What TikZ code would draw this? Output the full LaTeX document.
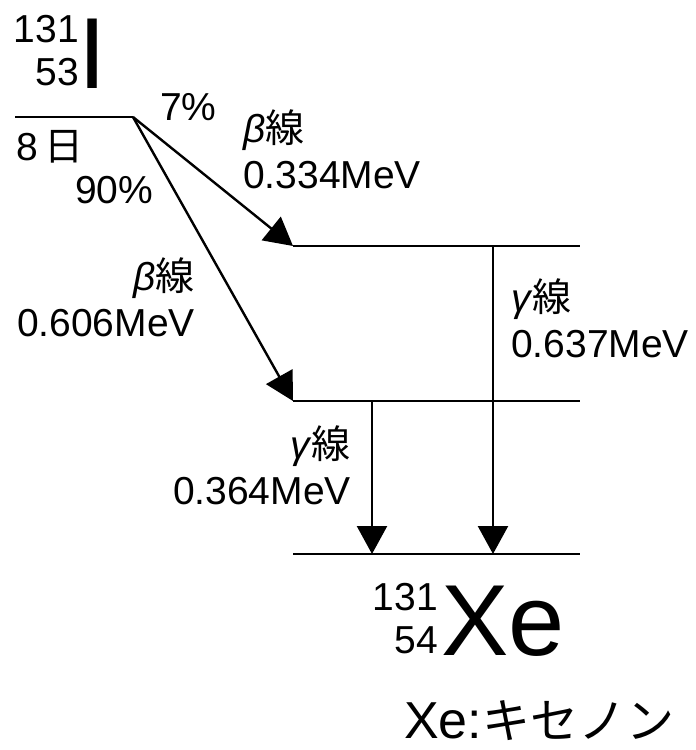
\documentclass[tikz,border=0pt]{standalone}
\usepackage{fontspec}
\setmainfont{Liberation Sans}
\newfontfamily\jpfont{Noto Sans CJK JP}
\usetikzlibrary{arrows.meta}

\begin{document}
\begin{tikzpicture}[x=1pt,y=-1pt,
  lvl/.style={line width=2.5pt},
  decay/.style={line width=2.4pt,-{Triangle[length=28pt,width=30pt]}},
  lbl/.style={inner sep=0pt,font=\fontsize{39}{46}\selectfont},
  big/.style={inner sep=0pt,font=\fontsize{101}{110}\selectfont}]
\useasboundingbox (0,0) rectangle (696,750);
% energy levels
\coordinate (iw) at (15,117); \coordinate (ie) at (133,117);
\coordinate (aw) at (293,246); \coordinate (ae) at (580,246);
\coordinate (bw) at (293,401); \coordinate (be) at (580,401);
\coordinate (gw) at (293,554); \coordinate (ge) at (580,554);
\coordinate (ga) at (493,246); \coordinate (ga end) at (493,554);
\coordinate (gb) at (372,401); \coordinate (gb end) at (372,554);
\draw[lvl] (iw)--(ie); \draw[lvl] (aw)--(ae);
\draw[lvl] (bw)--(be); \draw[lvl] (gw)--(ge);
% decays
\draw[decay] (ie)--(aw); \draw[decay] (ie)--(bw);
\draw[decay] (ga)--(ga end); \draw[decay] (gb)--(gb end);
% iodine
\node[lbl,anchor=base east] (imass) at (79,42) {131};
\node[lbl,anchor=base east] (icharge) at (79,85) {53};
\node[big,anchor=base] (iod) at (93,88) {I};
\node[lbl,anchor=base west] (half) at (16,160) {8\,{\jpfont 日}};
\node[lbl,anchor=base west] (p7) at (160,120) {7\%};
\node[lbl,anchor=base west] (p90) at (75,203) {90\%};
% labels
\node[lbl,align=left,anchor=south west] (beta1) at (243,189) {\textit{β}{\jpfont 線}\\0.334MeV};
\node[lbl,align=right,anchor=south east] (beta2) at (195,337) {\textit{β}{\jpfont 線}\\0.606MeV};
\node[lbl,align=left,anchor=south west] (gam1) at (511,358) {\textit{γ}{\jpfont 線}\\0.637MeV};
\node[lbl,align=right,anchor=south east] (gam2) at (351,505) {\textit{γ}{\jpfont 線}\\0.364MeV};
% xenon
\node[big,anchor=base west] (xe) at (441,655) {Xe};
\node[lbl,anchor=base east] (xemass) at (438,610) {131};
\node[lbl,anchor=base east] (xecharge) at (438,653) {54};
\node[inner sep=0pt,anchor=base west,font=\fontsize{52}{60}\selectfont] (xename) at (404,738) {Xe:{\jpfont\fontsize{48}{60}\selectfont キセノン}};
\end{tikzpicture}
\end{document}
